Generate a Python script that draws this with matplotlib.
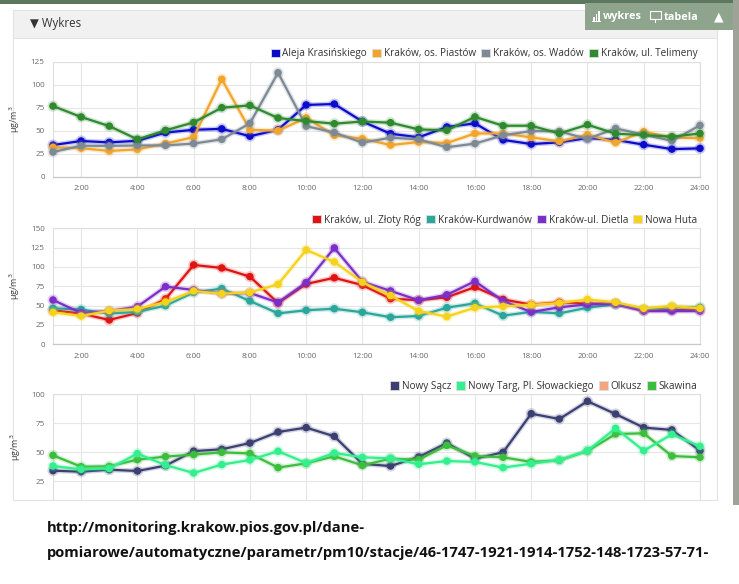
import matplotlib
matplotlib.use('Agg')
import matplotlib.pyplot as plt
from matplotlib.patches import Patch, Rectangle
import matplotlib.patheffects as pe

# ---------------- data ----------------
hours = list(range(1, 25))
tick_hours = list(range(2, 25, 2))
tick_labels = [f"{h}:00" for h in tick_hours]

# panel 1
aleja = [34.4, 38.8, 37.3, 39, 48, 51, 52, 44, 51, 78, 79, 60, 46.7, 42.8, 54, 58, 40, 35.5, 37.3, 42, 40, 34.8, 30, 30.8]
piastow = [32, 31, 28, 29.7, 36, 43, 106, 51, 50, 64, 45, 41.3, 34.4, 37.7, 36.6, 47, 47, 42.8, 38.4, 45.7, 37, 49, 42.4, 42]
wadow = [26.8, 33.7, 33.5, 34, 34, 36, 40.6, 58, 113, 55, 48, 37, 42.4, 40.6, 32, 36, 45, 49.6, 49.3, 41, 52.5, 45.7, 39, 55.8]
telimeny = [76.8, 64.9, 55, 40.6, 50.4, 59, 75, 77.5, 63.8, 60.5, 57.6, 60, 58.7, 51.4, 50.4, 65, 55.4, 55.4, 47, 56.5, 46.7, 45.3, 43.5, 47]
names1 = ["Aleja Krasińskiego", "Kraków, os. Piastów", "Kraków, os. Wadów", "Kraków, ul. Telimeny"]
colors1 = ["#0b0bcc", "#f2a52a", "#7d8995", "#2f8a2f"]

# panel 2
zloty = [44, 39.7, 31.5, 40.5, 58.6, 102.6, 98.7, 87.5, 53.4, 78, 86, 76.5, 59, 57, 60.8, 74, 58, 51.3, 54.3, 52.6, 52.6, 44, 44, 44.8]
kurdwanow = [46.5, 45, 39.7, 42, 50, 67, 72, 56, 40, 44, 46, 41.4, 35, 36.6, 47.4, 53, 37, 42, 40, 47.4, 51.7, 45, 48, 47.8]
dietla = [57.3, 40.5, 43, 48.7, 74.6, 70.3, 65.5, 66.4, 54, 79.7, 124.6, 81, 69, 57, 64, 81.5, 56, 41.8, 47.8, 51.7, 52, 43, 43, 43]
nowa_huta = [41.4, 36.6, 43.5, 45.7, 54.7, 69, 65.5, 67, 77.6, 122, 106.5, 80.3, 63, 43, 35.8, 47.4, 49, 51, 53.4, 58, 54.3, 46.5, 49.6, 46.5]
names2 = ["Kraków, ul. Złoty Róg", "Kraków-Kurdwanów", "Kraków-ul. Dietla", "Nowa Huta"]
colors2 = ["#e01313", "#2aa69b", "#7b2fc8", "#f6d21a"]

# panel 3
nowy_sacz = [34.2, 33.3, 35, 33.9, 38.5, 51, 52.6, 58, 67.5, 71.3, 63.8, 40, 38.2, 46, 58, 44.5, 50, 83.3, 78.7, 94, 83, 71.3, 69.3, 51.4]
nowy_targ = [38.2, 35.3, 36, 48.9, 39, 32.2, 39.4, 43.4, 50.9, 40.8, 49.4, 45.7, 44.8, 39.7, 42.5, 41.7, 36.8, 40.2, 43.4, 51.4, 70.7, 51.4, 65.5, 55.2]
olkusz = []  # no data shown
skawina = [47.4, 37.6, 37.9, 43.7, 46.3, 48, 50, 49, 36.8, 40.5, 46.6, 38.8, 44.5, 43.7, 56, 46.8, 45.7, 41.7, 43.1, 51.1, 65.8, 66.4, 46.8, 45.7]
names3 = ["Nowy Sącz", "Nowy Targ, Pl. Słowackiego", "Olkusz", "Skawina"]
colors3 = ["#3b3f72", "#33ef8e", "#f4a582", "#3dbd3d"]

url_lines = ["http://monitoring.krakow.pios.gov.pl/dane-",
             "pomiarowe/automatyczne/parametr/pm10/stacje/46-1747-1921-1914-1752-148-1723-57-71-"]

# ---------------- figure ----------------
W, H = 739, 584
plt.rcParams['font.family'] = ['Open Sans', 'DejaVu Sans']
fig = plt.figure(figsize=(W / 100, H / 100), dpi=100)
fig.patch.set_facecolor('white')


def rect_px(x0, y0, x1, y1, **kw):
    r = Rectangle((x0 / W, 1 - y1 / H), (x1 - x0) / W, (y1 - y0) / H,
                  transform=fig.transFigure, **kw)
    fig.add_artist(r)
    return r


def ax_px(x0, y0, x1, y1):
    return fig.add_axes([x0 / W, 1 - y1 / H, (x1 - x0) / W, (y1 - y0) / H])


# page decorations
rect_px(13, 10, 717, 500, facecolor='white', edgecolor='#e3e3e3', lw=0.8, zorder=0)
rect_px(13, 10, 717, 38, facecolor='#f1f1f1', edgecolor='#e3e3e3', lw=0.8, zorder=0)
rect_px(0, 0, W, 4, facecolor='#5b775d', edgecolor='none', zorder=5)
rect_px(585, 3, 733, 30, facecolor='#8ea48c', edgecolor='none', zorder=5)
rect_px(733, 0, W, 505, facecolor='#9fa297', edgecolor='none', zorder=5)
fig.text(30 / W, 1 - 24 / H, "▼ Wykres", fontsize=8.3, color='#333333', va='center', ha='left')
# button icons / labels
for i, hgt in enumerate([4, 7, 10]):
    rect_px(593 + i * 2.6, 21 - hgt, 594.6 + i * 2.6, 21, facecolor='white', edgecolor='none', zorder=6)
rect_px(592, 21, 601, 22, facecolor='white', edgecolor='none', zorder=6)
fig.text(603 / W, 1 - 17 / H, "wykres", fontsize=7.8, fontweight='bold', color='white',
         va='center', ha='left', zorder=7)
rect_px(650, 11, 661, 19, facecolor='none', edgecolor='white', lw=0.8, zorder=6)
rect_px(655, 19, 656, 23, facecolor='white', edgecolor='none', zorder=6)
fig.text(664 / W, 1 - 17 / H, "tabela", fontsize=7.8, fontweight='bold', color='white',
         va='center', ha='left', zorder=7)
fig.text(719 / W, 1 - 17 / H, "▲", fontsize=9, color='white', va='center', ha='center', zorder=7,
         family=['DejaVu Sans'])

grid_c = '#e6e6e6'
tick_c = '#666666'


def style_axes(ax, ymax, yticks, ymin=0, show_x=True):
    ax.set_xlim(1, 24)
    ax.set_ylim(ymin, ymax)
    ax.set_xticks(tick_hours)
    ax.set_yticks(yticks)
    ax.grid(True, color=grid_c, lw=0.8)
    ax.set_axisbelow(True)
    for s in ['top', 'right', 'left']:
        ax.spines[s].set_color('#dedede')
        ax.spines[s].set_linewidth(0.8)
    ax.spines['bottom'].set_color('#c8c8c8')
    ax.spines['bottom'].set_linewidth(0.9)
    if show_x:
        ax.set_xticklabels(tick_labels)
    else:
        ax.set_xticklabels([])
        ax.spines['bottom'].set_visible(False)
    ax.tick_params(axis='both', length=0, labelsize=5.8, colors=tick_c, pad=6)
    ax.set_ylabel("µg/m$^3$", fontsize=6.5, color='#444444', labelpad=6)


def plot_series(ax, series, colors):
    for vals, c in zip(series, colors):
        if not vals:
            continue
        ax.plot(hours[:len(vals)], vals, color=c, lw=1.6, marker='o', ms=4.4,
                clip_on=False, zorder=3,
                path_effects=[pe.Stroke(linewidth=3.6, foreground=c, alpha=0.22), pe.Normal()])


def legend(ax, names, colors):
    handles = [Patch(facecolor=c, edgecolor='#dddddd', lw=0.6) for c in colors]
    leg = ax.legend(handles, names, loc='lower right', bbox_to_anchor=(1.0, 1.0), ncol=4,
                    frameon=False, fontsize=7.2, handlelength=0.9, handleheight=0.9,
                    handletextpad=0.3, columnspacing=0.5, borderaxespad=0.15, borderpad=0.1)
    for t in leg.get_texts():
        t.set_color('#333333')


ax1 = ax_px(53, 61.7, 700, 176.7)
style_axes(ax1, 125, [0, 25, 50, 75, 100, 125])
plot_series(ax1, [aleja, piastow, wadow, telimeny], colors1)
legend(ax1, names1, colors1)

ax2 = ax_px(53, 228.3, 700, 344.3)
style_axes(ax2, 150, [0, 25, 50, 75, 100, 125, 150])
plot_series(ax2, [zloty, kurdwanow, dietla, nowa_huta], colors2)
legend(ax2, names2, colors2)

ax3 = ax_px(53, 394.3, 700, 500)
style_axes(ax3, 100, [25, 50, 75, 100], ymin=8.9, show_x=False)
plot_series(ax3, [nowy_sacz, skawina, nowy_targ, olkusz], [colors3[0], colors3[3], colors3[1], colors3[2]])
legend(ax3, names3, colors3)

# URL text fitted to width
fig.canvas.draw()
renderer = fig.canvas.get_renderer()
url_font = ['Liberation Sans Narrow', 'Open Sans', 'DejaVu Sans']
t2 = fig.text(47 / W, 1 - 553 / H, url_lines[1], fontsize=11, fontweight='bold',
              color='#111111', va='center', ha='left', family=url_font)
fig.canvas.draw()
wpx = t2.get_window_extent(renderer).width
fs = 11 * 658 / wpx
t2.set_fontsize(fs)
fig.text(47 / W, 1 - 528 / H, url_lines[0], fontsize=fs, fontweight='bold',
         color='#111111', va='center', ha='left', family=url_font)

fig.savefig('out.png', dpi=100, facecolor='white')
